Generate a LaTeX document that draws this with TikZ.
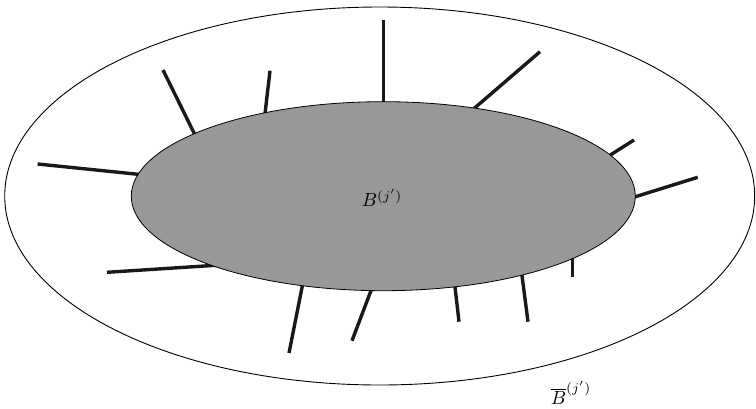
\documentclass[tikz,border=0pt]{standalone}
\usepackage{amsmath}
\begin{document}
\begin{tikzpicture}[x=1pt,y=-1pt,
  spike/.style={line width=3.4pt,black!90},
  lbl/.style={inner sep=0pt,scale=1.9,transform shape}]
\useasboundingbox (0,0) rectangle (756,408);
\definecolor{diskgray}{RGB}{152,152,152}
% outer ellipse
\draw[line width=0.9pt] (379.7,196) ellipse [x radius=375, y radius=189];
% spikes (start slightly inside the disk)
\draw[spike] (383.3,110) -- (383.3,20);
\draw[spike] (470,112) -- (540,51.7);
\draw[spike] (264.5,118) -- (270,70.7);
\draw[spike] (197,139) -- (163,70);
\draw[spike] (145,175) -- (37.6,164);
\draw[spike] (604,159) -- (634,140);
\draw[spike] (628,199) -- (697.7,177.3);
\draw[spike] (220,265) -- (107,272.3);
\draw[spike] (303.5,280) -- (289,353);
\draw[spike] (373.5,284) -- (352,340.7);
\draw[spike] (454.2,280) -- (459,321.7);
\draw[spike] (521,268) -- (528,321.7);
\draw[spike] (572.3,250) -- (572.3,277.3);
% inner disk
\draw[fill=diskgray,line width=0.8pt] (383.3,196.2) ellipse [x radius=252, y radius=94.5];
\node[lbl] (inner) at (382,198) {$B^{(j')}$};
\node[lbl] (outer) at (571,393) {$\overline{B}^{(j')}$};
\end{tikzpicture}
\end{document}
